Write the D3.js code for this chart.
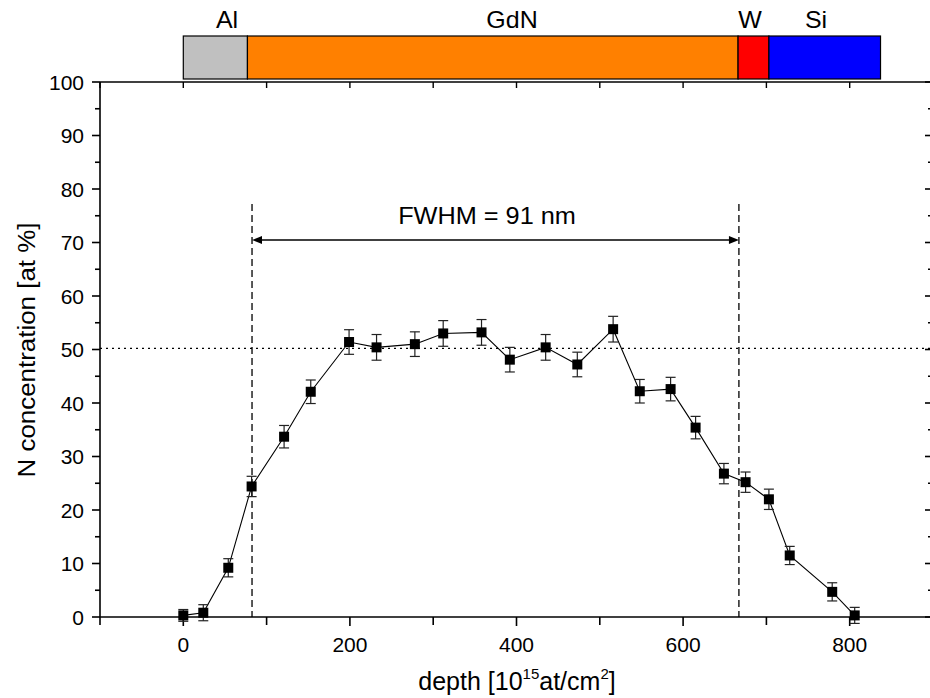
<!DOCTYPE html>
<html><head><meta charset="utf-8">
<script src="https://cdn.jsdelivr.net/npm/d3@7"></script>
<style>
body{margin:0;background:#fff;}
svg{display:block;font-family:"Liberation Sans",Arial,sans-serif;}
</style></head>
<body><svg id="c" width="930" height="698"></svg>
<script>
const depth = [0, 24, 54, 82, 121, 153, 199, 232, 278, 312, 358, 392, 435, 473, 516, 548, 585, 615, 649, 675, 703, 728, 779, 806];
const nConc = [0.3, 0.8, 9.2, 24.4, 33.7, 42.1, 51.4, 50.4, 51.0, 53.0, 53.2, 48.1, 50.4, 47.2, 53.8, 42.2, 42.6, 35.4, 26.8, 25.2, 22.0, 11.5, 4.7, 0.3];
const nErr = [1.1, 1.5, 1.7, 1.9, 2.1, 2.2, 2.3, 2.4, 2.3, 2.4, 2.4, 2.3, 2.4, 2.3, 2.4, 2.2, 2.2, 2.1, 1.9, 1.9, 1.9, 1.7, 1.7, 1.5];
const layerNames = ["Al", "GdN", "W", "Si"];
const layerStart = [0, 77, 666, 703];
const layerEnd = [77, 666, 703, 837];
const layerColors = ["#c0c0c0", "#ff8000", "#ff0000", "#0000ff"];
const xTicks = [0, 200, 400, 600, 800];
const xMinor = [-100, 100, 300, 500, 700, 900];
const yTicks = [0, 10, 20, 30, 40, 50, 60, 70, 80, 90, 100];
const yMinor = [5, 15, 25, 35, 45, 55, 65, 75, 85, 95];
const fwhmLeft = 82.5, fwhmRight = 667, halfMax = 50.2;
const fwhmLabel = "FWHM = 91 nm";

const svg = d3.select("#c");
const x = d3.scaleLinear().domain([-100, 900]).range([100, 933]);
const y = d3.scaleLinear().domain([0, 100]).range([617, 82]);

// layer bar
const bar = svg.append("g");
layerNames.forEach((n, i) => {
  bar.append("rect").attr("x", x(layerStart[i])).attr("y", 36)
    .attr("width", x(layerEnd[i]) - x(layerStart[i])).attr("height", 43)
    .attr("fill", layerColors[i]).attr("stroke", "#000").attr("stroke-width", 1.2);
});
const labelX = [227, 512, 750, 816];
layerNames.forEach((n, i) => {
  svg.append("g").attr("transform", `translate(${labelX[i]},28) scale(1.04,1)`)
    .append("text").attr("text-anchor", "middle").attr("font-size", 24).text(n);
});

// axes
const axG = svg.append("g").attr("stroke", "#000").attr("fill", "none");
axG.append("line").attr("x1", 100).attr("x2", 933).attr("y1", y(0)).attr("y2", y(0)).attr("stroke-width", 1.6);
xTicks.forEach(t => axG.append("line").attr("x1", x(t)).attr("x2", x(t)).attr("y1", y(0)).attr("y2", y(0) + 9).attr("stroke-width", 1.6));
xMinor.forEach(t => axG.append("line").attr("x1", x(t)).attr("x2", x(t)).attr("y1", y(0)).attr("y2", y(0) + 8).attr("stroke-width", 1.6));
axG.append("line").attr("x1", 100).attr("x2", 933).attr("y1", y(100)).attr("y2", y(100)).attr("stroke-width", 1.6);
xTicks.concat(xMinor).forEach(t => axG.append("line").attr("x1", x(t)).attr("x2", x(t)).attr("y1", y(100)).attr("y2", y(100) + 6).attr("stroke-width", 1.4));
axG.append("line").attr("x1", 100).attr("x2", 100).attr("y1", y(0)).attr("y2", y(100)).attr("stroke-width", 1.6);
yTicks.forEach(t => axG.append("line").attr("x1", 92).attr("x2", 100).attr("y1", y(t)).attr("y2", y(t)).attr("stroke-width", 1.6));
yMinor.forEach(t => axG.append("line").attr("x1", 95).attr("x2", 100).attr("y1", y(t)).attr("y2", y(t)).attr("stroke-width", 1.6));
axG.append("line").attr("x1", 933).attr("x2", 933).attr("y1", y(0)).attr("y2", y(100)).attr("stroke-width", 1.6);
yTicks.forEach(t => axG.append("line").attr("x1", 925).attr("x2", 933).attr("y1", y(t)).attr("y2", y(t)).attr("stroke-width", 1.6));
yMinor.forEach(t => axG.append("line").attr("x1", 928).attr("x2", 933).attr("y1", y(t)).attr("y2", y(t)).attr("stroke-width", 1.6));

// tick labels
svg.append("g").selectAll("text").data(xTicks).join("text")
  .attr("x", d => x(d)).attr("y", 652).attr("text-anchor", "middle").attr("font-size", 21).text(d => d);
svg.append("g").selectAll("text").data(yTicks).join("text")
  .attr("x", 84).attr("y", d => y(d) + 7.5).attr("text-anchor", "end").attr("font-size", 21).text(d => d);

// axis titles
const xt = svg.append("g").attr("transform", "translate(517,690)")
  .append("text").attr("text-anchor", "middle").attr("font-size", 25);
xt.append("tspan").text("depth [10");
xt.append("tspan").attr("font-size", 15).attr("dy", -11).text("15");
xt.append("tspan").attr("dy", 11).text("at/cm");
xt.append("tspan").attr("font-size", 15).attr("dy", -11).text("2");
xt.append("tspan").attr("dy", 11).text("]");
svg.append("g").attr("transform", "translate(35,350) rotate(-90) scale(1.08,1)")
  .append("text").attr("text-anchor", "middle").attr("font-size", 24).text("N concentration [at %]");

// reference lines
const ref = svg.append("g").attr("stroke", "#000").attr("fill", "none");
ref.append("line").attr("x1", 100).attr("x2", 933).attr("y1", y(halfMax)).attr("y2", y(halfMax))
  .attr("stroke-width", 1.3).attr("stroke-dasharray", "2,4");
[fwhmLeft, fwhmRight].forEach(v => ref.append("line").attr("x1", x(v)).attr("x2", x(v))
  .attr("y1", 204).attr("y2", y(0)).attr("stroke-width", 1.3).attr("stroke-dasharray", "7,4"));
ref.append("line").attr("x1", x(fwhmLeft) + 8).attr("x2", x(fwhmRight) - 8).attr("y1", 240).attr("y2", 240).attr("stroke-width", 1.3);
svg.append("path").attr("d", `M${x(fwhmLeft)},240 l10,-4 l0,8 z`).attr("fill", "#000");
svg.append("path").attr("d", `M${x(fwhmRight)},240 l-10,-4 l0,8 z`).attr("fill", "#000");
svg.append("g").attr("transform", "translate(487,224) scale(1.1,1)")
  .append("text").attr("text-anchor", "middle").attr("font-size", 23).text(fwhmLabel);

// data
const pts = depth.map((d, i) => ({x: d, y: nConc[i], e: nErr[i]}));
svg.append("path").datum(pts).attr("fill", "none").attr("stroke", "#000").attr("stroke-width", 1.1)
  .attr("d", d3.line().x(d => x(d.x)).y(d => y(d.y)));
const eb = svg.append("g").attr("stroke", "#222").attr("stroke-width", 1.2);
pts.forEach(p => {
  eb.append("line").attr("x1", x(p.x)).attr("x2", x(p.x)).attr("y1", y(p.y - p.e)).attr("y2", y(p.y + p.e));
  eb.append("line").attr("x1", x(p.x) - 5).attr("x2", x(p.x) + 5).attr("y1", y(p.y - p.e)).attr("y2", y(p.y - p.e));
  eb.append("line").attr("x1", x(p.x) - 5).attr("x2", x(p.x) + 5).attr("y1", y(p.y + p.e)).attr("y2", y(p.y + p.e));
});
svg.append("g").selectAll("rect").data(pts).join("rect")
  .attr("x", d => x(d.x) - 5).attr("y", d => y(d.y) - 5).attr("width", 10).attr("height", 10).attr("fill", "#000");
</script></body></html>
